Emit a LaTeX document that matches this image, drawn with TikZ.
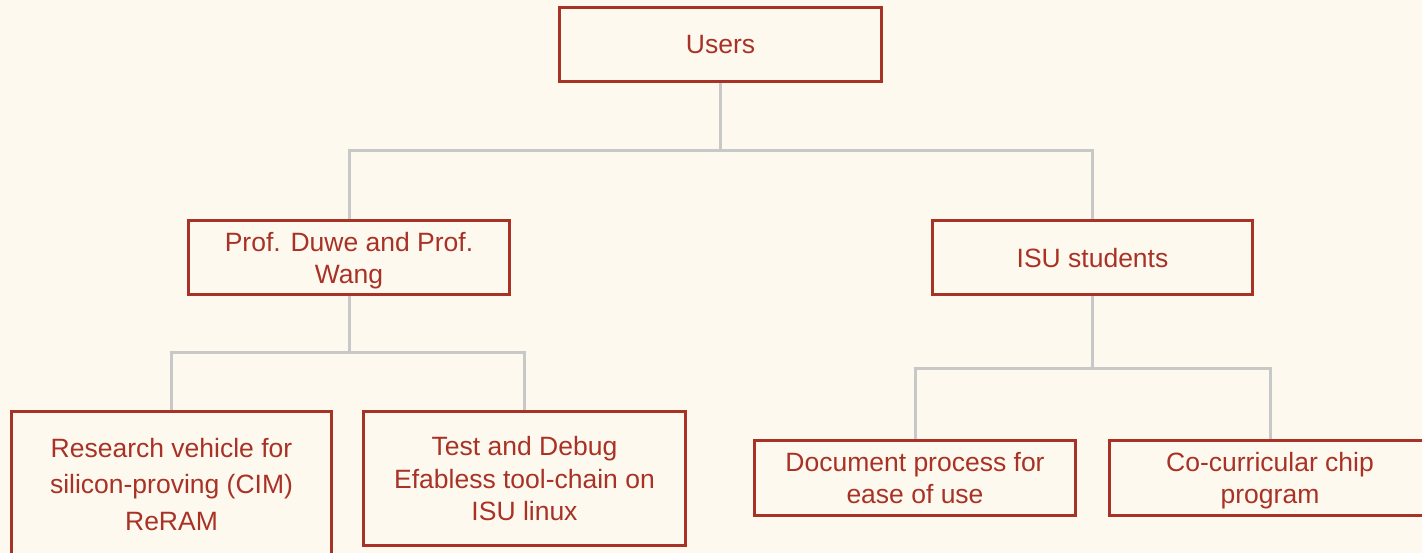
\documentclass[tikz,border=0pt]{standalone}
\usepackage{fontspec}
\setmainfont{Liberation Sans}
\definecolor{bg}{HTML}{FEF9EF}
\definecolor{boxred}{HTML}{A93226}
\definecolor{linegray}{HTML}{C8C8C8}
\begin{document}
\begin{tikzpicture}[x=1pt,y=-1pt,
  box/.style={draw=boxred, line width=3pt, fill=bg, text=boxred, align=center,
    font=\fontsize{26.5}{32}\selectfont, inner sep=0pt, text depth=0pt},
  link/.style={draw=linegray, line width=3pt}]
\useasboundingbox (0,0) rectangle (1422,553);
\clip (0,0) rectangle (1422,553);
\fill[bg] (0,0) rectangle (1422,553);
% nodes
\node[box, minimum width=322pt, minimum height=74pt] (users) at (720.5,44.5) {Users};
\node[box, minimum width=321pt, minimum height=74pt] (prof) at (349,257.5) {Prof. Duwe and Prof.\\Wang};
\node[box, minimum width=320pt, minimum height=74pt] (isu) at (1092.5,257.5) {ISU students};
\node[box, minimum width=320pt, minimum height=145pt, font=\fontsize{26.5}{36.5}\selectfont] (res) at (171.5,484) {Research vehicle for\\silicon-proving (CIM)\\ReRAM};
\node[box, minimum width=322pt, minimum height=134pt, font=\fontsize{26.5}{32.5}\selectfont] (test) at (524.5,478.5) {Test and Debug\\Efabless tool-chain on\\ISU linux};
\node[box, minimum width=321pt, minimum height=75pt] (doc) at (915,478) {Document process for\\ease of use};
\node[box, minimum width=321pt, minimum height=75pt] (cocur) at (1270,478) {Co-curricular chip\\program};
% connectors
\draw[link] (users.south) -- ++(0,68) coordinate (u1) -| (prof.north);
\draw[link] (u1) -| (isu.north);
\draw[link] (prof.south) -- ++(0,57) coordinate (p1) -| (res.north);
\draw[link] (p1) -| (test.north);
\draw[link] (isu.south) -- ++(0,72) coordinate (i1) -| (doc.north);
\draw[link] (i1) -| (cocur.north);
\end{tikzpicture}
\end{document}
